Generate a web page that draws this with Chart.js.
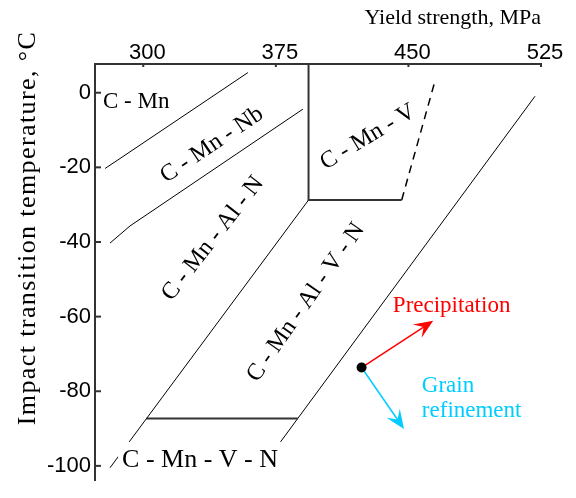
<!DOCTYPE html>
<html>
<head>
<meta charset="utf-8">
<script src="https://cdn.jsdelivr.net/npm/chart.js@4.4.0/dist/chart.umd.min.js"></script>
<style>
  html, body { margin: 0; padding: 0; background: #fff; }
  #wrap { width: 576px; height: 498px; }
</style>
</head>
<body>
<div id="wrap"><canvas id="grafico"></canvas></div>
<script>
// ticks
var xTicks = [300, 375, 450, 525];
var yTicks = [0, -20, -40, -60, -80, -100];

// region boundaries, [yield strength MPa, temperature °C]
var cMnUpper = [[278.4, -20.3], [285.7, -18.0], [359.2, 5.4]];
var nbLower = [[281.2, -40.3], [292.5, -35.7], [390.3, -4.4]];
var vBox = [[393.5, 7.7], [393.5, -28.75], [446.2, -28.75]];
var vDashed = [[446.2, -28.75], [465.0, 3.1]];
var alnLower = [[393.5, -28.75], [281.2, -100.5]];
var vnBottom = [[301.9, -87.3], [387.4, -87.3]];
var alvnLower = [[521.6, -0.95], [377.3, -93.8]];

// point and the two arrows
var dot = [423.5, -73.65];
var precipTip = [464.0, -61.1];
var grainTip = [447.5, -90.1];

// region names
var regionNames = ['C - Mn', 'C - Mn - Nb', 'C - Mn - Al - N', 'C - Mn - V', 'C - Mn - Al - V - N', 'C - Mn - V - N'];
var regionAt = [[277.2, -2.6], [338.9, -14.0], [339.4, -39.1], [427.1, -11.9], [392.0, -56.2], [288.0, -98.4]];
var regionAngle = [0, -34, -52, -31, -55, 0];

var arrowNames = ['Precipitation', 'Grain', 'refinement'];
var arrowNameAt = [[441.2, -57.2], [457.6, -78.7], [457.6, -85.2]];

var serif = '"Liberation Serif", "Times New Roman", serif';
var cyan = '#00ccff';

function pts(arr) {
    return arr.map(p => ({ x: p[0], y: p[1] }));
}

function linha(arr, width, color, dash) {
    return {
        data: pts(arr),
        showLine: true,
        borderColor: color,
        borderWidth: width,
        borderDash: dash || [],
        pointRadius: 0,
        fill: false,
        tension: 0
    }
}

function px(chart, p) {
    return [chart.scales.x.getPixelForValue(p[0]), chart.scales.y.getPixelForValue(p[1])];
}

function seta(ctx, a, b, color) {
    var ang = Math.atan2(b[1] - a[1], b[0] - a[0]);
    var len = 19, half = 8;
    ctx.save();
    ctx.strokeStyle = color;
    ctx.fillStyle = color;
    ctx.lineWidth = 1.5;
    ctx.beginPath();
    ctx.moveTo(a[0], a[1]);
    ctx.lineTo(b[0] - Math.cos(ang) * 6, b[1] - Math.sin(ang) * 6);
    ctx.stroke();
    ctx.translate(b[0], b[1]);
    ctx.rotate(ang);
    ctx.beginPath();
    ctx.moveTo(0, 0);
    ctx.lineTo(-len, -half);
    ctx.lineTo(-len * 0.6, 0);
    ctx.lineTo(-len, half);
    ctx.closePath();
    ctx.fill();
    ctx.restore();
}

var desenho = {
    id: 'desenho',
    afterDatasetsDraw(chart) {
        var ctx = chart.ctx;
        var area = chart.chartArea;
        var sx = chart.scales.x, sy = chart.scales.y;

        // inward tick marks
        ctx.save();
        ctx.strokeStyle = '#333';
        ctx.lineWidth = 2;
        xTicks.forEach(v => {
            var x = sx.getPixelForValue(v);
            ctx.beginPath();
            ctx.moveTo(x, area.top);
            ctx.lineTo(x, area.top + 3);
            ctx.stroke();
        });
        yTicks.forEach(v => {
            var y = sy.getPixelForValue(v);
            ctx.beginPath();
            ctx.moveTo(area.left, y);
            ctx.lineTo(area.left + 6, y);
            ctx.stroke();
        });
        ctx.restore();

        // region names
        regionNames.forEach((t, i) => {
            var p = px(chart, regionAt[i]);
            ctx.save();
            ctx.fillStyle = '#000';
            ctx.textBaseline = 'middle';
            if (i == 5) {
                ctx.font = '26px ' + serif;
                var w = ctx.measureText(t).width;
                ctx.fillStyle = '#fff';
                ctx.fillRect(p[0] - 4, p[1] - 18, w + 8, 40);
                ctx.fillStyle = '#000';
                ctx.textAlign = 'left';
                ctx.fillText(t, p[0], p[1]);
            } else if (regionAngle[i] == 0) {
                ctx.font = '23px ' + serif;
                ctx.textAlign = 'left';
                ctx.fillText(t, p[0], p[1]);
            } else {
                ctx.font = '24px ' + serif;
                ctx.textAlign = 'center';
                ctx.translate(p[0], p[1]);
                ctx.rotate(regionAngle[i] * Math.PI / 180);
                ctx.fillText(t, 0, 0);
            }
            ctx.restore();
        });

        // arrows and point
        var d = px(chart, dot);
        seta(ctx, d, px(chart, precipTip), '#ff0000');
        seta(ctx, d, px(chart, grainTip), cyan);
        ctx.save();
        ctx.fillStyle = '#000';
        ctx.beginPath();
        ctx.arc(d[0], d[1], 5, 0, Math.PI * 2);
        ctx.fill();

        ctx.font = '23px ' + serif;
        ctx.textBaseline = 'middle';
        ctx.textAlign = 'left';
        arrowNames.forEach((t, i) => {
            var p = px(chart, arrowNameAt[i]);
            ctx.fillStyle = i == 0 ? '#ff0000' : cyan;
            ctx.fillText(t, p[0], p[1]);
        });
        ctx.restore();

        // y axis title
        ctx.save();
        ctx.font = '26px ' + serif;
        ctx.fillStyle = '#000';
        ctx.textAlign = 'center';
        ctx.textBaseline = 'middle';
        ctx.letterSpacing = '1.4px';
        ctx.translate(area.left - 67, area.top + 164);
        ctx.rotate(-Math.PI / 2);
        ctx.fillText('Impact transition temperature, °C', 0, 0);
        ctx.restore();
    }
}

var grafico = document.querySelector("#grafico");

new Chart(grafico, {
    type: 'scatter',
    data: {
        datasets: [
            linha(cMnUpper, 1, '#000'),
            linha(nbLower, 1, '#000'),
            linha(vBox, 2, '#333'),
            linha(vDashed, 1.5, '#000', [8, 6]),
            linha(alnLower, 1, '#000'),
            linha(vnBottom, 2, '#333'),
            linha(alvnLower, 1, '#000')
        ]
    },
    options: {
        responsive: true,
        maintainAspectRatio: false,
        animation: false,
        layout: { padding: { left: 0, top: 0, right: 35, bottom: 2 } },
        plugins: {
            legend: { display: false },
            tooltip: { enabled: false }
        },
        scales: {
            x: {
                type: 'linear',
                position: 'top',
                min: 272.7,
                max: 525,
                afterFit: s => { s.height = 64 },
                afterBuildTicks: s => { s.ticks = xTicks.map(v => ({ value: v })) },
                grid: { display: false, drawTicks: false, tickLength: 0 },
                border: { display: true, color: '#333', width: 2 },
                ticks: {
                    padding: -2,
                    labelOffset: 4,
                    color: '#000',
                    font: { family: '"Liberation Sans", Arial, sans-serif', size: 22 }
                },
                title: {
                    display: true,
                    text: 'Yield strength, MPa',
                    align: 'end',
                    color: '#000',
                    font: { family: serif, size: 22 },
                    padding: { top: 5, bottom: 0 }
                }
            },
            y: {
                type: 'linear',
                min: -104,
                max: 7.7,
                afterFit: s => { s.width = 95 },
                afterBuildTicks: s => { s.ticks = yTicks.map(v => ({ value: v })) },
                grid: { display: false, drawTicks: false, tickLength: 0 },
                border: { display: true, color: '#333', width: 2 },
                ticks: {
                    padding: 4,
                    color: '#000',
                    font: { family: '"Liberation Sans", Arial, sans-serif', size: 22 }
                }
            }
        }
    },
    plugins: [desenho]
})
</script>
</body>
</html>
